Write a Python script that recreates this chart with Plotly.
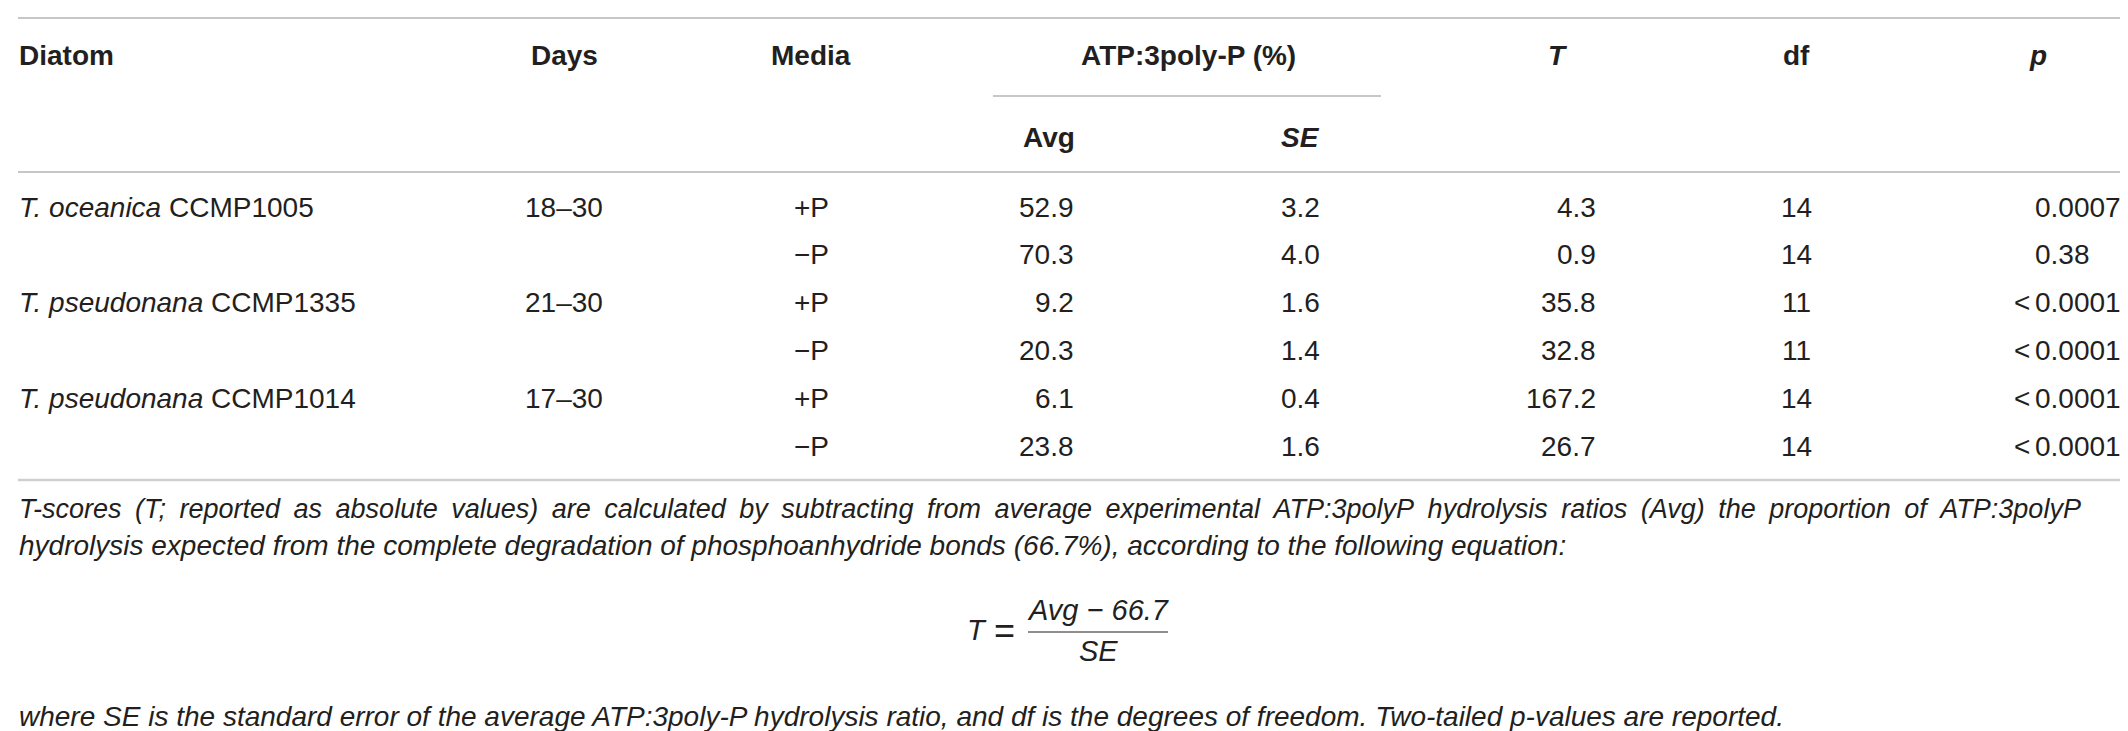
import plotly.graph_objects as go

# table values
species = ["T. oceanica", "T. pseudonana", "T. pseudonana"]
strains = ["CCMP1005", "CCMP1335", "CCMP1014"]
days = ["18–30", "21–30", "17–30"]
media = ["+P", "−P", "+P", "−P", "+P", "−P"]
avg = [52.9, 70.3, 9.2, 20.3, 6.1, 23.8]
se = [3.2, 4.0, 1.6, 1.4, 0.4, 1.6]
t_score = [4.3, 0.9, 35.8, 32.8, 167.2, 26.7]
dof = [14, 14, 11, 11, 14, 14]
p_val = ["0.0007", "0.38", "<0.0001", "<0.0001", "<0.0001", "<0.0001"]

note_1 = ("T-scores (T; reported as absolute values) are calculated by subtracting from average "
          "experimental ATP:3polyP hydrolysis ratios (Avg) the proportion of ATP:3polyP")
note_2 = ("hydrolysis expected from the complete degradation of phosphoanhydride bonds (66.7%), "
          "according to the following equation:")
note_3 = ("where <i>SE</i> is the standard error of the average ATP:3poly-P hydrolysis ratio, "
          "and <i>df</i> is the degrees of freedom. Two-tailed <i>p</i>-values are reported.")

W, H = 2128, 731
FONT = "Liberation Sans, Arial, Helvetica, sans-serif"
INK = "#231f20"
RULE = "#b4b4b4"
ROW0, ROW_H = 199, 47.8

fig = go.Figure()
fig.add_trace(go.Scatter(x=[0, W], y=[0, H], mode="markers", marker_opacity=0, hoverinfo="skip"))

annots = []


def cell(x, y, text, anchor="center", size=28, italic=False):
    annots.append(dict(x=x, y=y, xref="x", yref="y", text=text, showarrow=False,
                       xanchor=anchor, yanchor="middle", borderpad=0,
                       font=dict(family=FONT, size=size, color=INK,
                                 style="italic" if italic else "normal")))


# header
cell(10, 47, "<b>Diatom</b>", "left")
cell(556, 47, "<b>Days</b>")
cell(803, 47, "<b>Media</b>")
cell(1180, 47, "<b>ATP:3poly-P (%)</b>")
cell(1550, 47, "<b><i>T</i></b>")
cell(1788, 47, "<b>df</b>")
cell(2030, 47, "<b><i>p</i></b>")
cell(1068, 129, "<b>Avg</b>", "right")
cell(1313, 129, "<b><i>SE</i></b>", "right")

# body
for i in range(len(species)):
    y = ROW0 + 2 * i * ROW_H
    cell(10, y, f"<i>{species[i]}</i> {strains[i]}", "left")
    cell(556, y, days[i])

for i in range(len(media)):
    y = ROW0 + i * ROW_H
    cell(803, y, media[i])
    cell(1067, y, f"{avg[i]:.1f}", "right")
    cell(1313, y, f"{se[i]:.1f}", "right")
    cell(1589, y, f"{t_score[i]:.1f}", "right")
    cell(1788, y, str(dof[i]))
    val = p_val[i]
    if val.startswith("<"):
        cell(2023, y, "<", "right")
        val = val[1:]
    cell(2026, y, val, "left")

# footnote (first line is justified in the source, so widen its word gaps)
cell(10, 501, note_1.replace(" ", "\u2002"), "left", 27, True)
cell(10, 537, note_2, "left", 28, True)
cell(969, 622, "<i>T</i>", "center", 29, True)
cell(996, 622, "=", "center", 36)
cell(1090, 602, "<i>Avg</i> − 66.7", "center", 29, True)
cell(1090, 643, "<i>SE</i>", "center", 29, True)
cell(10, 708, note_3, "left", 28, True)

shapes = []
for y0, x0, x1, col, w in [(10, 10, 2118, RULE, 1.6), (88, 985, 1373, RULE, 1.6),
                           (164, 10, 2118, RULE, 1.6), (472, 10, 2118, "#cfcfcf", 2.4),
                           (624, 1020, 1160, INK, 1.2)]:
    shapes.append(dict(type="line", xref="x", yref="y", x0=x0, x1=x1, y0=y0, y1=y0,
                       line=dict(color=col, width=w)))

fig.update_layout(
    width=W, height=H, autosize=False,
    margin=dict(l=0, r=0, t=0, b=0),
    paper_bgcolor="white", plot_bgcolor="white",
    showlegend=False,
    annotations=annots, shapes=shapes,
    xaxis=dict(range=[0, W], visible=False, fixedrange=True),
    yaxis=dict(range=[H, 0], visible=False, fixedrange=True),
)

fig.write_html("out.html", config={"displayModeBar": False})
